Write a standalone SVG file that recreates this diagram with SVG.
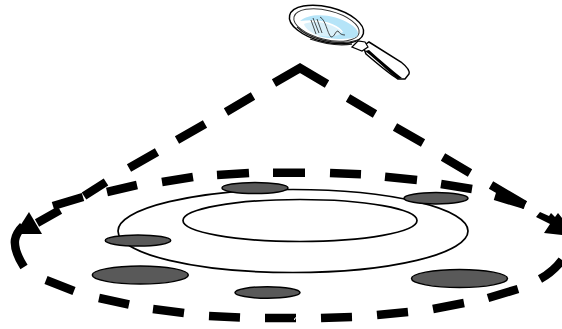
<svg xmlns="http://www.w3.org/2000/svg" width="562" height="329" viewBox="0 0 562 329">
<style>
.dash{fill:none;stroke:#000;stroke-width:8.500;stroke-linejoin:miter}
.ring{fill:none;stroke:#000;stroke-width:1.700}
.spot{fill:#595959;stroke:#000;stroke-width:1.500}
.head{fill:#000;stroke:none}
</style>
<rect width="562" height="329" fill="#fff"/>
<g id="rings">
<ellipse class="ring" cx="293" cy="231" rx="175" ry="41.500"/>
<ellipse class="ring" cx="300" cy="220.500" rx="117" ry="21"/>
</g>
<g id="spots">
<ellipse id="spot-top" class="spot" cx="255" cy="188" rx="33" ry="5.500"/>
<ellipse id="spot-top-right" class="spot" cx="436" cy="198.300" rx="32" ry="5.700"/>
<ellipse id="spot-left" class="spot" cx="138" cy="240.500" rx="32.700" ry="5.500"/>
<ellipse id="spot-big-left" class="spot" cx="140.300" cy="275" rx="48" ry="9"/>
<ellipse id="spot-big-right" class="spot" cx="459.500" cy="278.500" rx="48" ry="9"/>
<ellipse id="spot-bottom" class="spot" cx="267.500" cy="292.500" rx="32.500" ry="5.800"/>
</g>
<g id="connectors">
<path class="dash" d="M107 192L137 185M162 182L193 177M217 175L249 173M273 172.700L305 172.700M330 173L361 174.300M385 176.700L417 180M441 184L472 189M495 196L525 205"/>
<path class="dash" d="M24 267C17 256 14 248 15 240C16 234 19 230 23 226"/>
<path class="dash" d="M46 280L74 291M99 298L129 304.500M153 309L184 313M209 316L240 317.500M265 318L296 318M321 318L352 317M377 315L408 312M433 309L464 303M488 298L518 289M540 279C549 274 556 268 562 260"/>
<path class="dash" d="M106 182L84 196M83 197L53 206M60 210L37 223M129 168L157 152M177 140L205 124M226 112L253 96M274 83L300 68L327 84M348 98L375 114M395 127L423 143M443 157L470 173M491 185L525 205"/>
<path class="head" d="M15 234L29 212L42 234Z"/>
<path class="head" d="M536 217L540 212L549 216L551 213L555 217L558 213L562 218L562 235L544 233L550 224Z"/>
<path d="M294.500 320L295 318L296.500 317.700" fill="none" stroke="#fff" stroke-width="1"/>
</g>
<g id="magnifier">
<path d="M363 46L369 42L401 62C406 66 410 71 409 74L405 79L398 79C391 75 380 66 366 54Z" fill="#fff" stroke="#000" stroke-width="1.500"/>
<path d="M365 51C377 60 388 72 398 79L402 78C392 70 380 60 369 50Z" fill="#000"/>
<path d="M352 47L358 41L365 42L368 47L362 51Z" fill="#fff" stroke="#000" stroke-width="1.200"/>
<ellipse cx="326.500" cy="24.500" rx="38" ry="17.500" transform="rotate(14 326.500 24.500)" fill="#fff" stroke="#000" stroke-width="1.500"/>
<ellipse cx="326.500" cy="25" rx="33.500" ry="14.500" transform="rotate(14 326.500 25)" fill="#fff" stroke="#333" stroke-width="1"/>
<path d="M300 21C310 12 335 14 350 24C358 29 360 34 356 37C345 41 325 38 318 36C327 33 338 35 343 32C340 26 325 18 300 21Z" fill="#b5e4f8"/>
<path d="M304 24C315 20 330 22 342 32C338 38 325 37 316 35C310 32 305 28 304 24Z" fill="#d9f0fa"/>
<path d="M311 20L316 34M313 18L319 33M317 19L322 33M320 17C326 20 327 33 331 37C335 37 335 31 338 31C340 34 342 35 345 35" fill="none" stroke="#222" stroke-width="0.800"/>
<path d="M297 27C308 38 335 47 358 40M310 39C325 44 340 46 352 44" fill="none" stroke="#222" stroke-width="1.300"/>
</g>
</svg>
